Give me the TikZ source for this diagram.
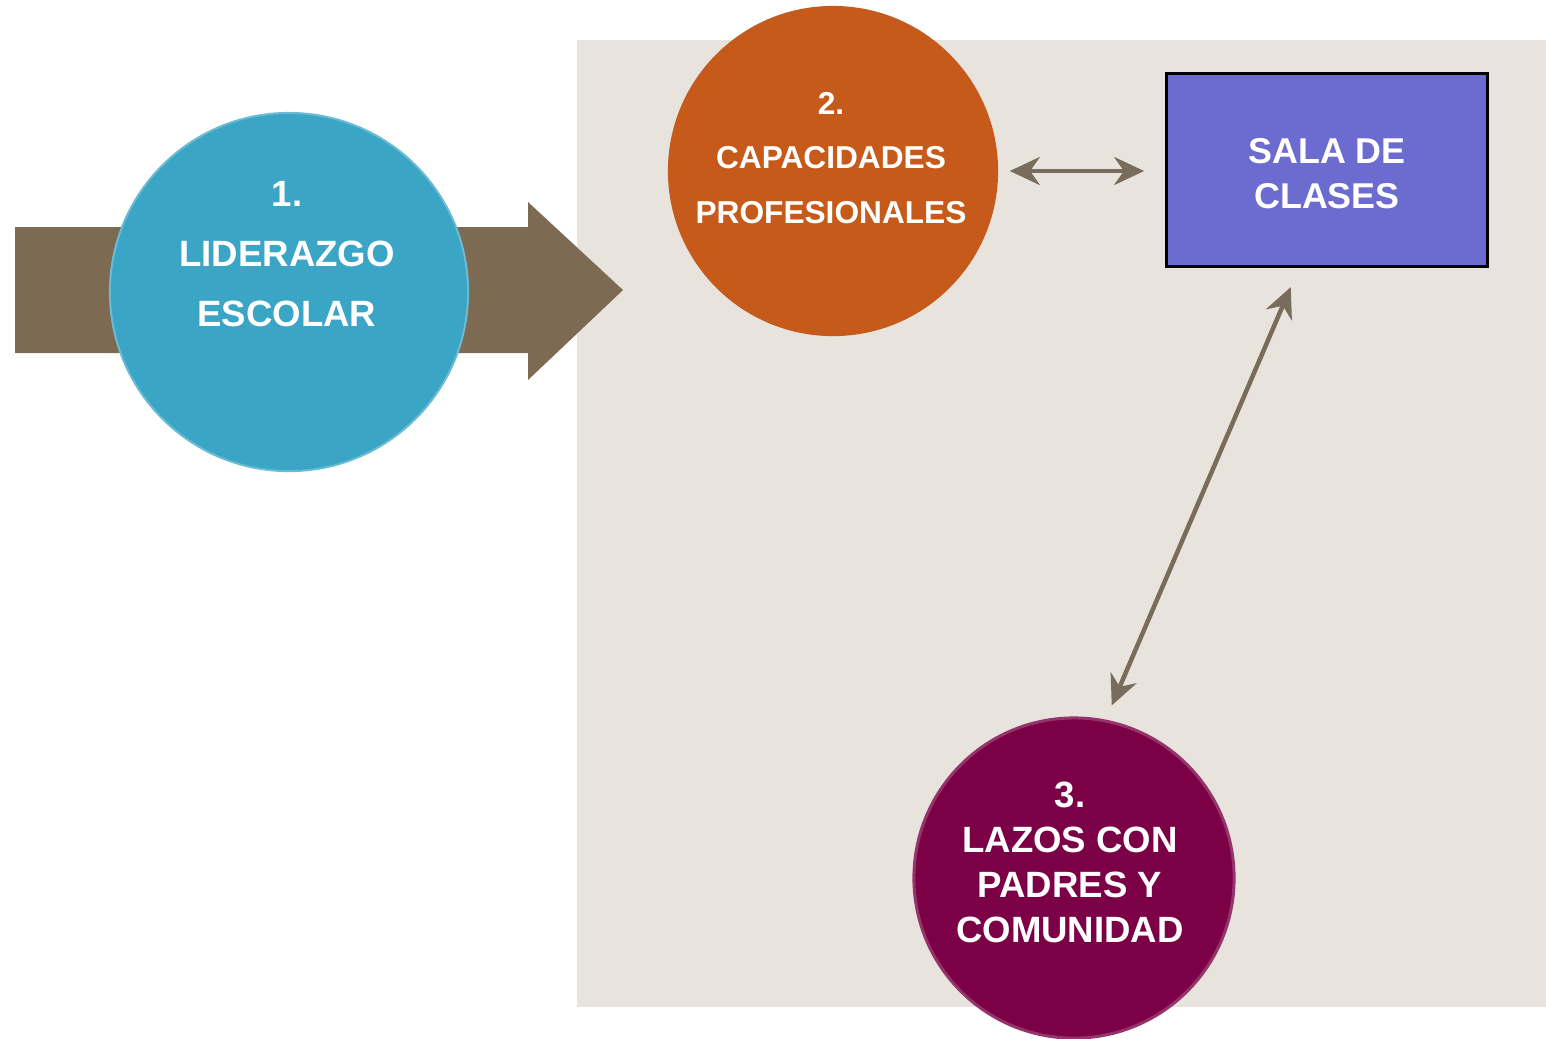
\documentclass[tikz,border=0pt]{standalone}
\usepackage{fontspec}
\setmainfont{Liberation Sans}
\usetikzlibrary{positioning, arrows.meta}
\definecolor{backcol}{HTML}{E9E3DE}
\definecolor{bigarrow}{HTML}{7C6A52}
\definecolor{arrowcol}{HTML}{786D5C}
\definecolor{lidcol}{HTML}{3BA5C6}
\definecolor{capcol}{HTML}{C55A1A}
\definecolor{lazcol}{HTML}{7B0046}
\definecolor{salacol}{HTML}{6B6BD0}
\begin{document}
\begin{tikzpicture}[
  x=0.01cm, y=-0.01cm,
  blob/.style={circle, inner sep=0pt},
  lbl/.style={text=white, align=center, inner sep=0pt},
  dbl/.style={{Stealth[length=0.3cm,width=0.28cm]}-{Stealth[length=0.3cm,width=0.28cm]},
              line width=0.045cm, arrowcol},
]
  \useasboundingbox (0,0) rectangle (1546,1038);
  \fill[backcol] (577,40) rectangle (1546,1007);
  \fill[bigarrow] (15,227) -- (528,227) -- (528,202) -- (623,290) -- (528,380)
    -- (528,353) -- (15,353) -- cycle;
  \node[blob, fill=lidcol, draw=lidcol!75!white, line width=0.02cm, minimum size=3.58cm] (lid) at (289,292) {};
  \node[blob, fill=capcol, minimum size=3.3cm] (cap) at (833,171) {};
  \node[blob, fill=lazcol, draw=lazcol!80!white, line width=0.03cm, minimum size=3.2cm] (laz) at (1074,878) {};
  \node[draw=black, line width=0.025cm, fill=salacol, minimum width=3.21cm, minimum height=1.93cm,
        inner sep=0pt] (sala) at (1327,170) {};
  \node[lbl, font={\fontsize{10.4}{17}\selectfont\bfseries}] (lidtxt) at (287,254) {1.\\LIDERAZGO\\ESCOLAR};
  \node[lbl, font={\fontsize{9}{15.4}\selectfont\bfseries}] (captxt) at (831,158) {2.\\CAPACIDADES\\PROFESIONALES};
  \node[lbl, font={\fontsize{10.4}{12.8}\selectfont\bfseries}] (laztxt) at (1070,862) {3.\\LAZOS CON\\PADRES Y\\COMUNIDAD};
  \node[lbl, font={\fontsize{10.2}{12.8}\selectfont\bfseries}] (salatxt) at (1327,174) {SALA DE\\CLASES};
  \draw[dbl, shorten <=0.11cm, shorten >=0.21cm] (cap) -- (sala.west |- cap);
  \draw[dbl, shorten <=0.21cm, shorten >=0.12cm] ([xshift=-0.28cm]sala.south) -- ([xshift=0.33cm]laz.north);
\end{tikzpicture}
\end{document}
